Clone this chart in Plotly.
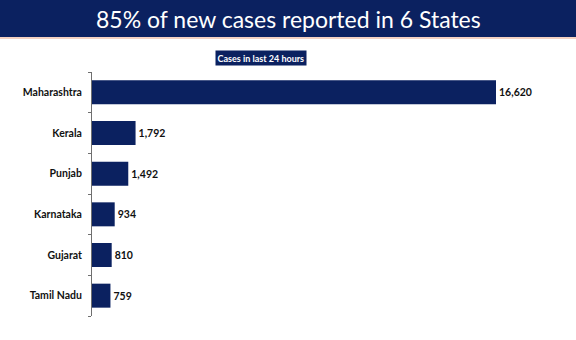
import plotly.graph_objects as go

# States and new cases reported in the last 24 hours
states = ["Maharashtra", "Kerala", "Punjab", "Karnataka", "Gujarat", "Tamil Nadu"]
cases = [16620, 1792, 1492, 934, 810, 759]
value_labels = ["16,620", "1,792", "1,492", "934", "810", "759"]

title_text = "85% of new cases reported in 6 States"
subtitle_text = "Cases in last 24 hours"

NAVY = "#0B2160"
W, H = 576, 340
L, R, T, B = 92, 44, 72, 24
PW, PH = W - L - R, H - T - B


def px_x(p):
    return (p - L) / PW


def px_y(p):
    return (H - B - p) / PH


fig = go.Figure(
    go.Bar(
        x=cases,
        y=states,
        orientation="h",
        marker=dict(color=NAVY, line=dict(width=0)),
        width=0.59,
        text=value_labels,
        texttemplate="<b>%{text}</b>",
        textposition="outside",
        textfont=dict(family="Lato", size=10.5, color="#111111"),
        cliponaxis=False,
        hoverinfo="skip",
    )
)

fig.update_layout(
    width=W,
    height=H,
    margin=dict(l=L, r=R, t=T, b=B),
    paper_bgcolor="white",
    plot_bgcolor="white",
    showlegend=False,
    font=dict(family="Lato"),
    xaxis=dict(
        range=[0, 16620 * PW / 404],
        visible=False,
        fixedrange=True,
    ),
    yaxis=dict(
        autorange="reversed",
        showline=True,
        linecolor="#6f6f6f",
        linewidth=1,
        ticks="outside",
        tickson="boundaries",
        ticklen=3,
        tickcolor="#6f6f6f",
        ticklabelstandoff=7,
        tickvals=states,
        ticktext=["<b>" + s + "</b>" for s in states],
        tickfont=dict(family="Lato", size=10.5, color="#111111"),
        showgrid=False,
        fixedrange=True,
    ),
    shapes=[
        # header band
        dict(type="rect", xref="paper", yref="paper",
             x0=px_x(0), x1=px_x(W), y0=px_y(37), y1=px_y(0),
             fillcolor=NAVY, line=dict(width=0), layer="below"),
        # thin accent rule under the header
        dict(type="line", xref="paper", yref="paper",
             x0=px_x(0), x1=px_x(W), y0=px_y(38), y1=px_y(38),
             line=dict(color="#E9A486", width=1.2)),
    ],
    annotations=[
        dict(text=title_text, xref="paper", yref="paper",
             x=px_x(288), y=px_y(18.5), xanchor="center", yanchor="middle",
             showarrow=False,
             font=dict(family="Lato", size=23, color="white")),
        dict(text="<b>" + subtitle_text + "</b>", xref="paper", yref="paper",
             x=px_x(260.5), y=px_y(58), xanchor="center", yanchor="middle",
             showarrow=False, bgcolor=NAVY, borderpad=1.5,
             font=dict(family="Lato", size=9, color="white")),
    ],
)

fig.write_html("out.html")
